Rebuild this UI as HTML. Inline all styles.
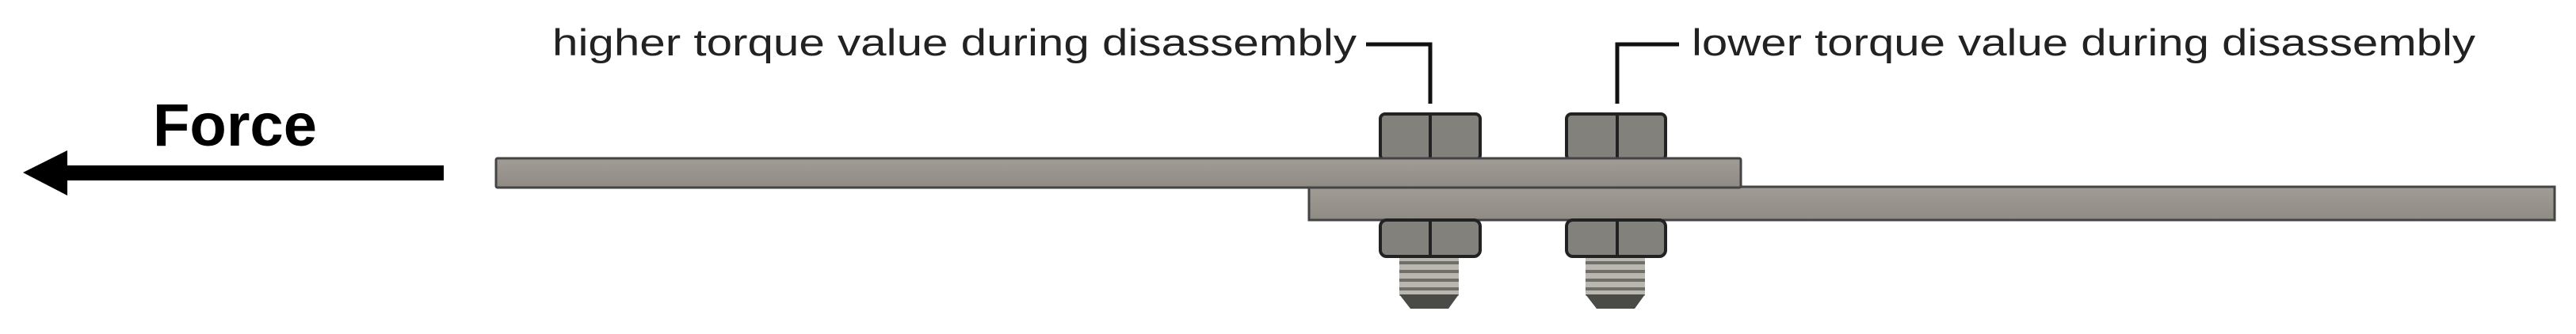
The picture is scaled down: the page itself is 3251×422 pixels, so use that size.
<!DOCTYPE html>
<html><head><style>html,body{margin:0;padding:0;background:#fff;}svg{display:block}</style></head>
<body>
<svg width="3251" height="422" viewBox="0 0 3251 422" xmlns="http://www.w3.org/2000/svg">
<defs>
<linearGradient id="pl" x1="0" y1="0" x2="0" y2="1"><stop offset="0" stop-color="#a19d96"/><stop offset="1" stop-color="#8f8b84"/></linearGradient>
</defs>
<!-- Force -->
<text x="193" y="184" font-family="Liberation Sans, sans-serif" font-weight="bold" font-size="76" fill="#000">Force</text>
<rect x="80" y="209" width="480" height="19" fill="#000"/>
<polygon points="29,218 85,190 85,247" fill="#000"/>
<!-- labels -->
<text x="697" y="70" font-family="Liberation Sans, sans-serif" font-size="47" fill="#222" textLength="1015" lengthAdjust="spacingAndGlyphs">higher torque value during disassembly</text>
<text x="2135" y="70" font-family="Liberation Sans, sans-serif" font-size="47" fill="#222" textLength="989" lengthAdjust="spacingAndGlyphs">lower torque value during disassembly</text>
<polyline points="1724,56 1805,56 1805,131" fill="none" stroke="#111" stroke-width="5"/>
<polyline points="2119,56 2041,56 2041,131" fill="none" stroke="#111" stroke-width="5"/>
<!-- top nuts -->
<g stroke="#222" stroke-width="4">
<rect x="1742" y="144" width="126" height="58" rx="6" fill="#82817b"/>
<line x1="1805" y1="146" x2="1805" y2="200"/>
<rect x="1977" y="144" width="125" height="58" rx="6" fill="#82817b"/>
<line x1="2041" y1="146" x2="2041" y2="200"/>
</g>
<!-- plates -->
<rect x="1652" y="236" width="1572" height="42" fill="url(#pl)" stroke="#444" stroke-width="3"/>
<rect x="626" y="200" width="1571" height="37" rx="2" fill="url(#pl)" stroke="#444" stroke-width="3"/>
<!-- threads -->
<g>
<rect x="1766" y="322" width="75" height="52" fill="#b9b7b0"/>
<rect x="1766" y="330" width="75" height="4" fill="#6f6e69"/><rect x="1766" y="341" width="75" height="4" fill="#6f6e69"/><rect x="1766" y="352" width="75" height="4" fill="#6f6e69"/><rect x="1766" y="363" width="75" height="4" fill="#6f6e69"/>
<polygon points="1766,372 1841,372 1828,390 1780,390" fill="#4a4a46"/>
<rect x="2001" y="322" width="75" height="52" fill="#b9b7b0"/>
<rect x="2001" y="330" width="75" height="4" fill="#6f6e69"/><rect x="2001" y="341" width="75" height="4" fill="#6f6e69"/><rect x="2001" y="352" width="75" height="4" fill="#6f6e69"/><rect x="2001" y="363" width="75" height="4" fill="#6f6e69"/>
<polygon points="2001,372 2076,372 2063,390 2015,390" fill="#4a4a46"/>
</g>
<!-- bottom nuts -->
<g stroke="#222" stroke-width="4">
<rect x="1742" y="278" width="126" height="46" rx="8" fill="#82817b"/>
<line x1="1805" y1="280" x2="1805" y2="322"/>
<rect x="1977" y="278" width="125" height="46" rx="8" fill="#82817b"/>
<line x1="2041" y1="280" x2="2041" y2="322"/>
</g>
</svg>
</body></html>
